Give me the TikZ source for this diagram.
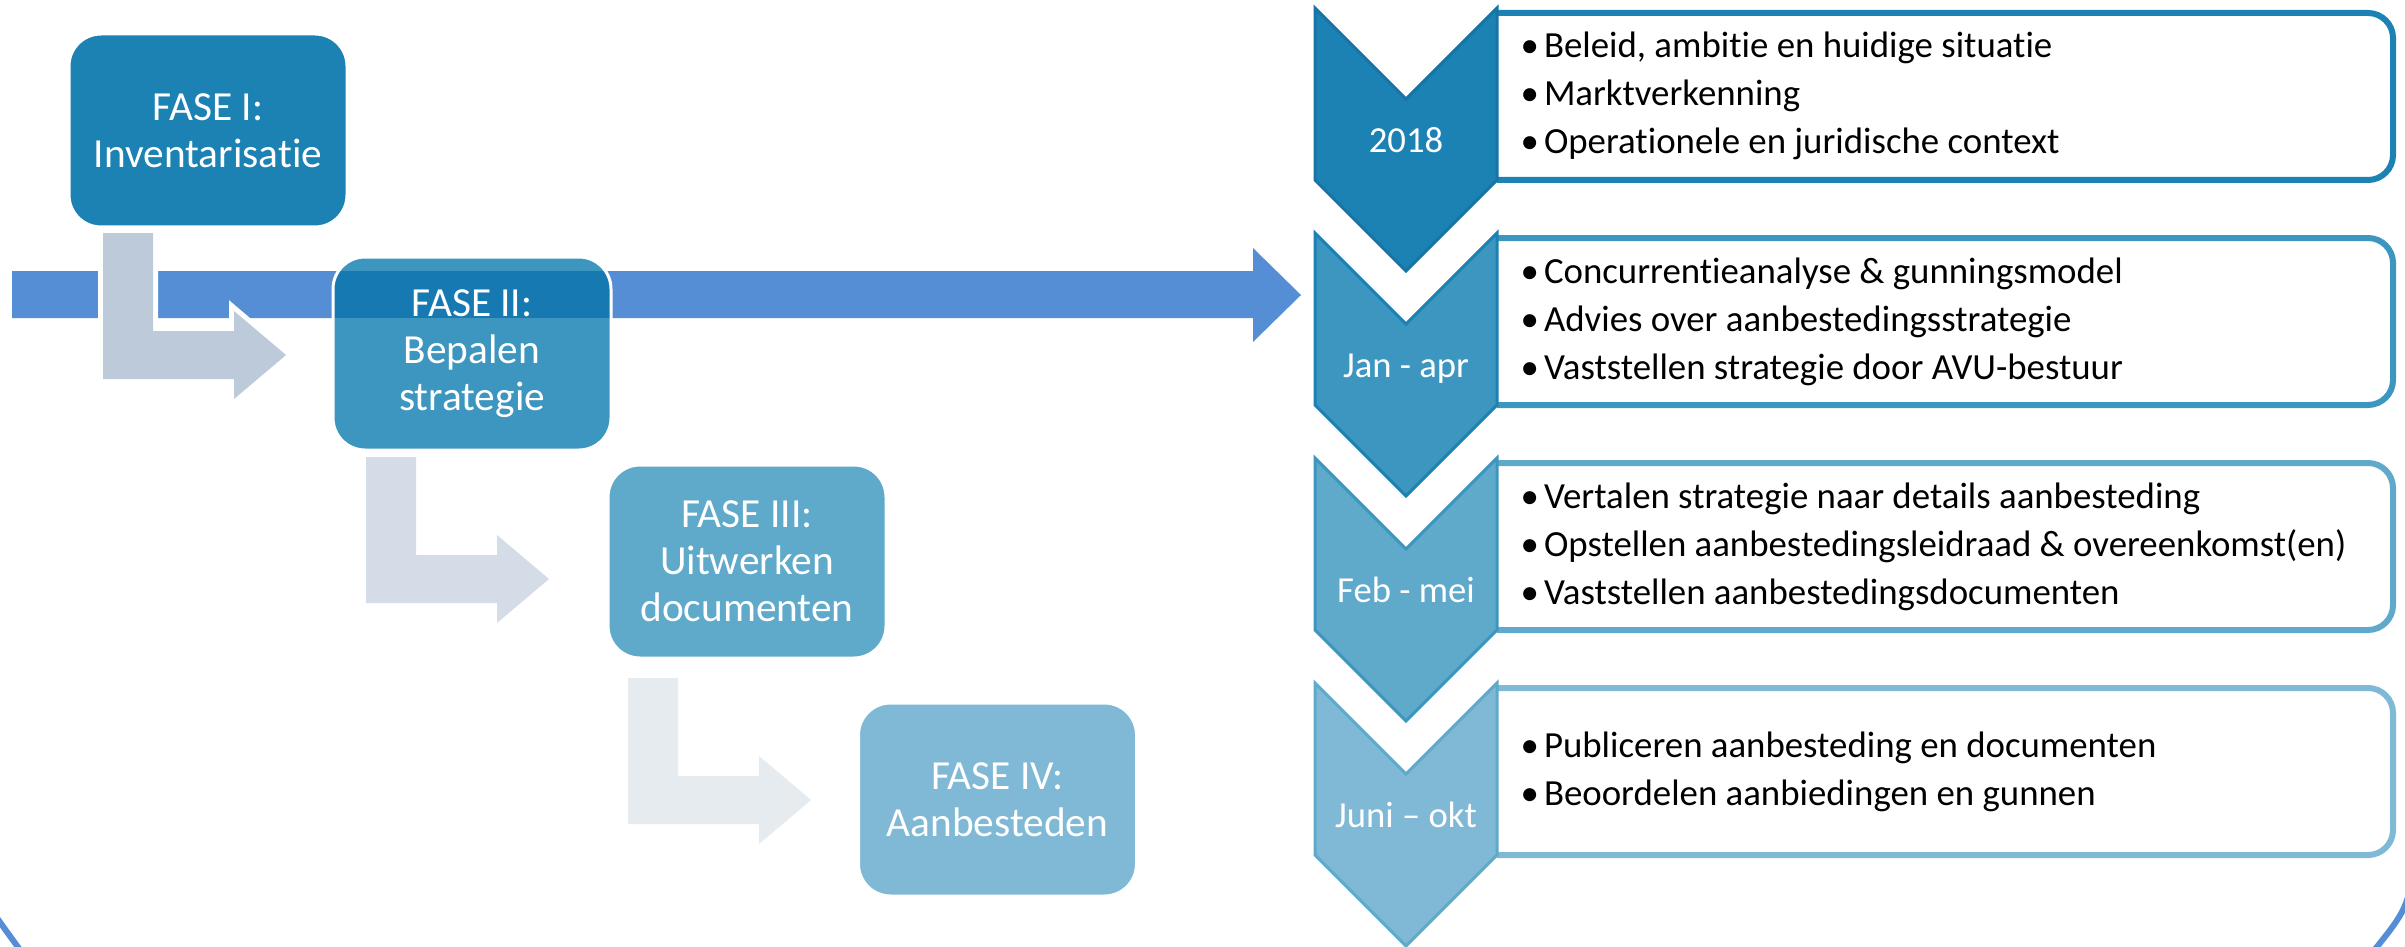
\documentclass[tikz,border=0pt]{standalone}
\usepackage{fontspec}
\setmainfont{Carlito}[Ligatures={NoCommon,NoContextual}]
\definecolor{c0}{HTML}{1874A6}
\definecolor{c1}{HTML}{1C82B3}
\definecolor{c2}{HTML}{3D96C0}
\definecolor{c3}{HTML}{5FA9CB}
\definecolor{c4}{HTML}{80B9D5}
\definecolor{arrowblue}{HTML}{558ED5}
\definecolor{overlapblue}{HTML}{1779B2}
\definecolor{g1}{HTML}{BCCAD9}
\definecolor{g2}{HTML}{D3DCE7}
\definecolor{g3}{HTML}{E6EBF0}
\tikzset{
  fase/.style={rounded corners=9.6pt, draw=white, line width=0.9pt, text=white,
    align=center, minimum width=83.4pt, minimum height=57.9pt, inner sep=0pt,
    font=\fontsize{12.4}{14.1}\selectfont},
  chevlabel/.style={text=white, anchor=base, inner sep=0pt, font=\fontsize{11}{13}\selectfont},
  item/.style={anchor=base west, inner sep=0pt, font=\fontsize{11.05}{13}\selectfont},
  chev/.style={line width=0.9pt, line join=miter},
  tbox/.style={line width=1.8pt, fill=white},
}
\newcommand\blt{\makebox[7pt][l]{\textbullet}}
\newcommand\bentpath{(103,233) -- (153,233) -- (153,331) -- (234,331) -- (234,311) -- (286,355) -- (234,399) -- (234,379) -- (103,379) -- cycle}
\newcommand\bentarr[3]{%
  \begin{scope}[shift={(#1,#2)}]
    \draw[white, line width=3pt, line join=miter] \bentpath;
    \fill[#3] \bentpath;
  \end{scope}}
\newcommand\chevpath{(1315,0) -- (1406,91) -- (1497,0) -- (1497,172) -- (1406,263) -- (1315,172) -- cycle}
\newcommand\boxpath{(1497,5) [rounded corners=7.5pt] -- (2393,5) -- (2393,172) -- (1497,172)}
\begin{document}
\begin{tikzpicture}[x=0.3pt, y=-0.3pt]
\useasboundingbox (0,0) rectangle (2405,947);
\clip (0,0) rectangle (2405,947);

% big horizontal arrow
\fill[arrowblue] (12,271) -- (1253,271) -- (1253,248) -- (1301,295) -- (1253,342) -- (1253,318) -- (12,318) -- cycle;

% corner arcs
\draw[arrowblue, line width=1.8pt] (-12,905) .. controls (4,928) .. (26,958);
\draw[arrowblue, line width=1.8pt] (2415,870) .. controls (2405,912) .. (2368,958);

% bent arrows
\bentarr{0}{0}{g1}
\bentarr{263}{224}{g2}
\bentarr{525}{445}{g3}

% phase boxes
\node[fase, fill=c1] (f1) at (208,130.5) {FASE I:\\Inventarisatie};
\fill[c2, rounded corners=9.6pt] (333,257) rectangle (611,450);
\begin{scope}
  \clip[rounded corners=9.6pt] (333,257) rectangle (611,450);
  \fill[overlapblue] (320,271) rectangle (630,318);
\end{scope}
\node[fase] (f2) at (472,353.5) {FASE II:\\Bepalen\\strategie};
\node[fase, fill=c3] (f3) at (747,561.5) {FASE III:\\Uitwerken\\documenten};
\node[fase, fill=c4] (f4) at (997.5,799.5) {FASE IV:\\Aanbesteden};

% right column
\begin{scope}[shift={(0,8)}]
  \draw[tbox, draw=c1] \boxpath;
  \draw[chev, fill=c1, draw=c0] \chevpath;
  \node[chevlabel] (l1) at (1406,144) {2018};
  \node[item] (t11) at (1520,50) {\blt Beleid, ambitie en huidige situatie};
  \node[item] (t12) at (1520,98) {\blt Marktverkenning};
  \node[item] (t13) at (1520,146) {\blt Operationele en juridische context};
\end{scope}
\begin{scope}[shift={(0,233)}]
  \draw[tbox, draw=c2] \boxpath;
  \draw[chev, fill=c2, draw=c1] \chevpath;
  \node[chevlabel] (l2) at (1406,144) {Jan - apr};
  \node[item] (t21) at (1520,50) {\blt Concurrentieanalyse \& gunningsmodel};
  \node[item] (t22) at (1520,98) {\blt Advies over aanbestedingsstrategie};
  \node[item] (t23) at (1520,146) {\blt Vaststellen strategie door AVU-bestuur};
\end{scope}
\begin{scope}[shift={(0,458)}]
  \draw[tbox, draw=c3] \boxpath;
  \draw[chev, fill=c3, draw=c2] \chevpath;
  \node[chevlabel] (l3) at (1406,144) {Feb - mei};
  \node[item] (t31) at (1520,50) {\blt Vertalen strategie naar details aanbesteding};
  \node[item] (t32) at (1520,98) {\blt Opstellen aanbestedingsleidraad \& overeenkomst(en)};
  \node[item] (t33) at (1520,146) {\blt Vaststellen aanbestedingsdocumenten};
\end{scope}
\begin{scope}[shift={(0,683)}]
  \draw[tbox, draw=c4] \boxpath;
  \draw[chev, fill=c4, draw=c3] \chevpath;
  \node[chevlabel] (l4) at (1406,144) {Juni – okt};
  \node[item] (t41) at (1520,74) {\blt Publiceren aanbesteding en documenten};
  \node[item] (t42) at (1520,122) {\blt Beoordelen aanbiedingen en gunnen};
\end{scope}
\end{tikzpicture}
\end{document}
